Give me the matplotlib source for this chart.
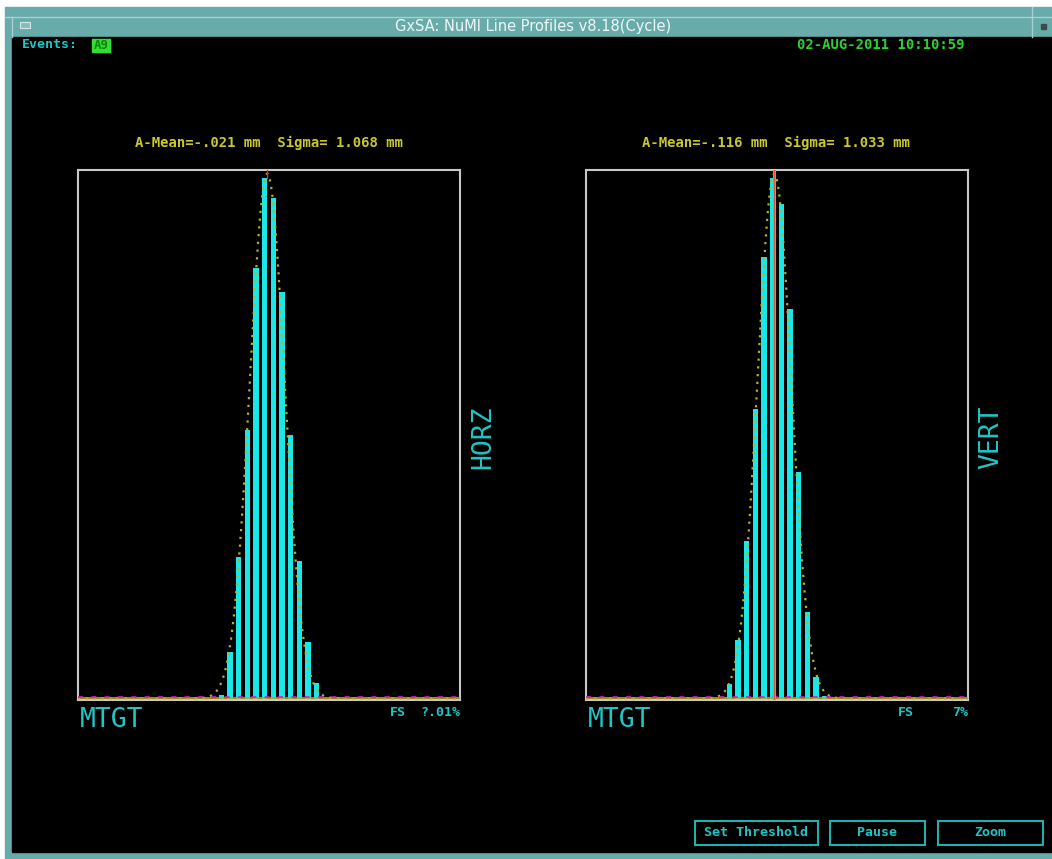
import numpy as np
import matplotlib.pyplot as plt
from matplotlib.patches import Rectangle

# Canales del perfil y alturas normalizadas (fraccion de la escala completa)
canales = np.arange(16, 28)
alturas_hor = [0.01, 0.09, 0.27, 0.51, 0.816, 0.985, 0.947, 0.77, 0.50, 0.263, 0.11, 0.032]
alturas_ver = [0.03, 0.114, 0.30, 0.55, 0.836, 0.985, 0.935, 0.737, 0.43, 0.166, 0.044, 0.008]

# Parametros del ajuste gaussiano (en canales)
ajuste_hor = (0.99, 21.3, 2.0)
ajuste_ver = (0.99, 21.2, 1.95)
media_ver = 21.15

# Textos
titulo = "GxSA: NuMI Line Profiles v8.18(Cycle)"
fecha = "02-AUG-2011 10:10:59"
texto_hor = "A-Mean=-.021 mm  Sigma= 1.068 mm"
texto_ver = "A-Mean=-.116 mm  Sigma= 1.033 mm"
escala_hor = "?.01%"
escala_ver = "7%"
botones = ["Set Threshold", "Pause", "Zoom"]

W, H = 1052, 859
CIAN = "#18e8e8"
TEXTO_CIAN = "#22c4c4"
AMARILLO = "#c8c830"
MONO = "DejaVu Sans Mono"

fig = plt.figure(figsize=(W / 100, H / 100), dpi=100, facecolor="white")

# Fondo: marco de la ventana, en coordenadas de pixel
bg = fig.add_axes([0, 0, 1, 1])
bg.set_xlim(0, W)
bg.set_ylim(H, 0)
bg.axis("off")
bg.add_patch(Rectangle((5, 7), W - 5, H - 7, color="#68abab"))
bg.add_patch(Rectangle((12, 37), W - 12, 815, color="black"))
bg.plot([5, W], [17, 17], color="#a8d0d0", lw=1)
bg.plot([12, 12], [17, 37], color="#a8d0d0", lw=1)
bg.plot([1032, 1032], [7, 37], color="#a8d0d0", lw=1)
bg.add_patch(Rectangle((20, 22), 10, 6, facecolor="#88bcbc", edgecolor="#d0e8e8", lw=0.8))
bg.add_patch(Rectangle((1041, 24), 5, 5, color="#404848"))
bg.text(533, 27, titulo, color="#eef8f8", fontsize=10.5, family="DejaVu Sans",
        ha="center", va="center")

bg.text(22, 45, "Events:", color=TEXTO_CIAN, fontsize=9.5, family=MONO,
        weight="bold", va="center")
bg.add_patch(Rectangle((92, 39), 18, 13, color="#30e030"))
bg.text(101, 45.5, "A9", color="#108010", fontsize=9, family=MONO,
        weight="bold", ha="center", va="center")
bg.text(797, 45, fecha, color="#30d030", fontsize=10, family=MONO,
        weight="bold", va="center")

bg.text(269, 143, texto_hor, color=AMARILLO, fontsize=10, family=MONO,
        weight="bold", ha="center", va="center")
bg.text(776, 143, texto_ver, color=AMARILLO, fontsize=10, family=MONO,
        weight="bold", ha="center", va="center")

for x0, nombre, vert, escala in [(78, "HOR", "HORZ", escala_hor),
                                 (586, "VER", "VERT", escala_ver)]:
    bg.text(x0 + 2, 720, "MTGT", color=TEXTO_CIAN, fontsize=19, family=MONO,
            va="center")
    bg.text(x0 + 405, 437, vert, color=TEXTO_CIAN, fontsize=19, family=MONO,
            rotation=90, ha="center", va="center")
    bg.text(x0 + 380, 178, nombre, color=TEXTO_CIAN, fontsize=9.5, family=MONO,
            weight="bold", ha="right", va="center")
    bg.text(x0 + 320, 712, "FS", color=TEXTO_CIAN, fontsize=9.5, family=MONO,
            weight="bold", ha="center", va="center")
    bg.text(x0 + 382, 712, escala, color=TEXTO_CIAN, fontsize=9.5, family=MONO,
            weight="bold", ha="right", va="center")

cajas = [(695, 123), (830, 95), (938, 105)]
for (x0, ancho), etiqueta in zip(cajas, botones):
    bg.add_patch(Rectangle((x0, 821), ancho, 24, fill=False,
                           edgecolor="#20b0b0", lw=1.5))
    bg.text(x0 + ancho / 2, 833, etiqueta, color=TEXTO_CIAN, fontsize=9.5,
            family=MONO, weight="bold", ha="center", va="center")


def panel(x0, alturas, ajuste, media=None):
    ax = fig.add_axes([x0 / W, 1 - 700 / H, 382 / W, 530 / H])
    ax.set_facecolor("black")
    ax.set_xlim(-0.5, 43.5)
    ax.set_ylim(0, 1)
    ax.set_xticks([])
    ax.set_yticks([])
    for s in ax.spines.values():
        s.set_color("#c8c8c8")
        s.set_linewidth(1.5)
    ax.bar(canales, alturas, width=0.62, color=CIAN, zorder=2)
    amp, mu, sig = ajuste
    xs = np.linspace(-0.5, 43.5, 900)
    ax.plot(xs, amp * np.exp(-0.5 * ((xs - mu) / sig) ** 2) + 0.003,
            color="#b8b028", lw=1.6, ls=(0, (1, 2.5)), zorder=3)
    ax.axhline(0.004, color="#c8a020", lw=1.2, zorder=3)
    ax.axhline(0.006, color="#d020d0", lw=1.2, ls=(0, (3, 5)), zorder=3)
    if media is None:
        ax.plot([mu, mu], [0.985, 1.0], color="#e03020", lw=1, zorder=4,
                clip_on=False)
    else:
        ax.axvline(media, color="#a8b020", lw=2.2, zorder=4)
        ax.axvline(media, color="#e05030", lw=0.7, zorder=5)
    return ax


panel(78, alturas_hor, ajuste_hor)
panel(586, alturas_ver, ajuste_ver, media_ver)

fig.savefig("out.png", dpi=100, facecolor="white")
